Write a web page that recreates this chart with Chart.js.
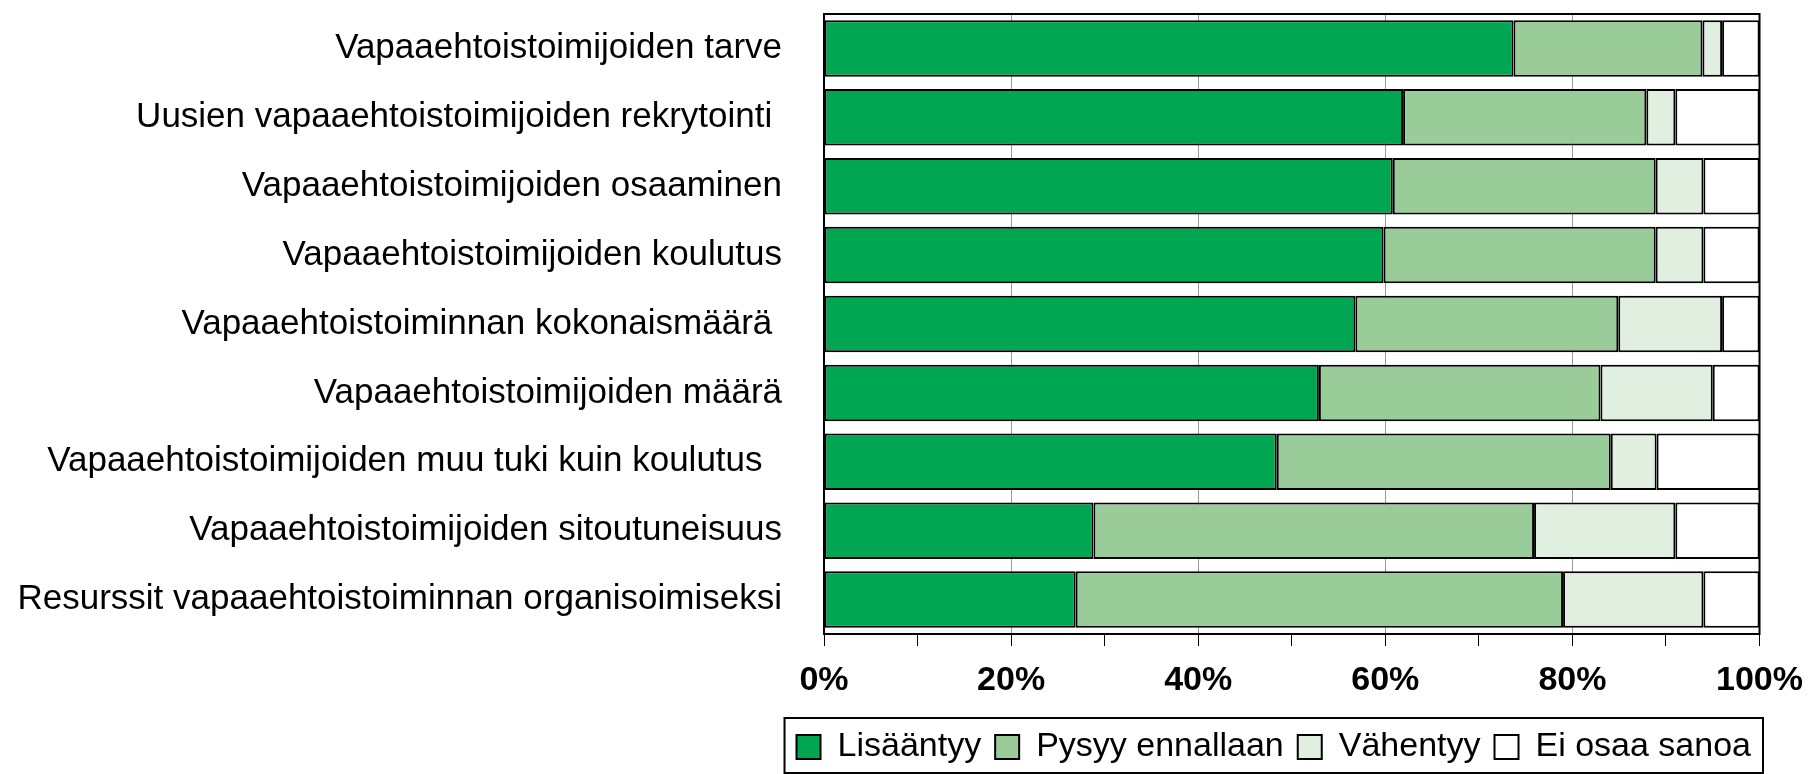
<!DOCTYPE html>
<html>
<head>
<meta charset="utf-8">
<script src="https://cdn.jsdelivr.net/npm/chart.js@4.4.1/dist/chart.umd.min.js"></script>
<style>
  html, body { margin: 0; padding: 0; background: #fff; }
</style>
</head>
<body>
<canvas id="chart" width="1817" height="774"></canvas>
<script>
// Survey answers, share of respondents (%)
const categories = [
  'Vapaaehtoistoimijoiden tarve',
  'Uusien vapaaehtoistoimijoiden rekrytointi ',
  'Vapaaehtoistoimijoiden osaaminen',
  'Vapaaehtoistoimijoiden koulutus',
  'Vapaaehtoistoiminnan kokonaismäärä ',
  'Vapaaehtoistoimijoiden määrä',
  'Vapaaehtoistoimijoiden muu tuki kuin koulutus  ',
  'Vapaaehtoistoimijoiden sitoutuneisuus',
  'Resurssit vapaaehtoistoiminnan organisoimiseksi'
];
const seriesNames = ['Lisääntyy', 'Pysyy ennallaan', 'Vähentyy', 'Ei osaa sanoa'];
const lisaantyy = [73.7, 61.9, 60.8, 59.8, 56.8, 52.9, 48.4, 28.8, 26.9];
const pysyy     = [20.2, 26.0, 28.1, 29.1, 28.1, 30.1, 35.7, 47.1, 52.1];
const vahentyy  = [2.1, 3.1, 5.1, 5.1, 11.1, 12.0, 4.9, 15.1, 15.0];
const eiOsaa    = [4.0, 9.0, 6.0, 6.0, 4.0, 5.0, 11.0, 9.0, 6.0];
const xTickLabels = ['0%', '20%', '40%', '60%', '80%', '100%'];

const colors = ['#00A651', '#99CC99', '#E0EFE0', '#FFFFFF'];
const FONT = "'Liberation Sans', Arial, sans-serif";

function ds(label, data, color) {
  return {
    label: label,
    data: data,
    backgroundColor: color,
    borderColor: '#000',
    borderWidth: 2,
    borderSkipped: false,
    barPercentage: 0.82,
    categoryPercentage: 1.0
  };
}

// frame around plot area and around legend
const frames = {
  id: 'frames',
  afterDatasetsDraw(chart) {
    const a = chart.chartArea;
    const c = chart.ctx;
    c.save();
    c.strokeStyle = '#000';
    c.lineWidth = 2;
    c.strokeRect(a.left, a.top, a.right - a.left, a.bottom - a.top);
    c.restore();
  },
  afterDraw(chart) {
    const lg = chart.legend;
    if (!lg || !lg.legendHitBoxes.length) return;
    const boxes = lg.legendHitBoxes;
    const left = Math.min(...boxes.map(b => b.left)) - 12;
    const right = Math.max(...boxes.map(b => b.left + b.width)) + 12;
    const c = chart.ctx;
    c.save();
    c.strokeStyle = '#000';
    c.lineWidth = 2;
    c.strokeRect(left, lg.top + 2, right - left, lg.bottom - lg.top - 3);
    c.restore();
  }
};

new Chart(document.getElementById('chart').getContext('2d'), {
  type: 'bar',
  data: {
    labels: categories,
    datasets: [
      ds(seriesNames[0], lisaantyy, colors[0]),
      ds(seriesNames[1], pysyy, colors[1]),
      ds(seriesNames[2], vahentyy, colors[2]),
      ds(seriesNames[3], eiOsaa, colors[3])
    ]
  },
  options: {
    indexAxis: 'y',
    responsive: false,
    animation: false,
    layout: { padding: { top: 14, right: 52, bottom: 0, left: 0 } },
    scales: {
      x: {
        stacked: true,
        min: 0,
        max: 100,
        afterFit(scale) { scale.height = 82; },
        ticks: {
          stepSize: 10,
          autoSkip: false,
          maxRotation: 0,
          padding: 14,
          color: '#000',
          font: { family: FONT, size: 34, weight: 'bold' },
          callback: v => (v % 20 === 0 ? xTickLabels[v / 20] : '')
        },
        grid: {
          color: ctx => (ctx.tick && ctx.tick.value % 20 === 0 ? '#999' : 'rgba(0,0,0,0)'),
          tickColor: '#000',
          tickLength: 12,
          lineWidth: 1
        },
        border: { color: '#000', width: 2 }
      },
      y: {
        stacked: true,
        afterFit(scale) {
          scale.width = 824;
          scale.paddingTop = 0;
          scale.paddingBottom = 0;
        },
        ticks: {
          padding: 0,
          color: '#000',
          font: { family: FONT, size: 35 }
        },
        grid: {
          drawOnChartArea: false,
          tickLength: 42,
          tickColor: 'rgba(0,0,0,0)'
        },
        border: { color: '#000', width: 2 }
      }
    },
    plugins: {
      tooltip: { enabled: false },
      legend: {
        position: 'bottom',
        align: 'end',
        labels: {
          boxWidth: 24,
          boxHeight: 24,
          padding: 14,
          color: '#000',
          font: { family: FONT, size: 34 }
        }
      }
    }
  },
  plugins: [frames]
});
</script>
</body>
</html>
